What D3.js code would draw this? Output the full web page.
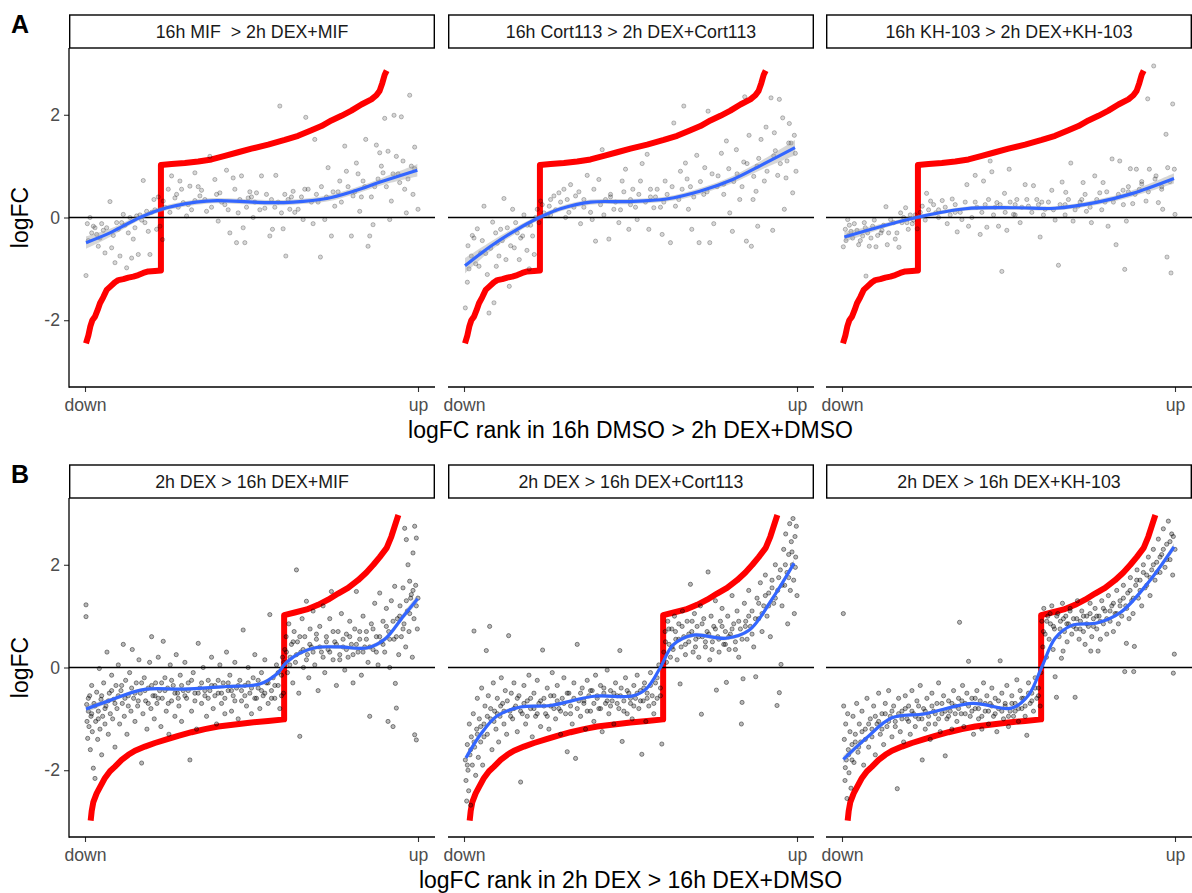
<!DOCTYPE html>
<html>
<head>
<meta charset="utf-8">
<script src="https://cdn.jsdelivr.net/npm/d3@7"></script>
<style>
  body { margin: 0; background: #fff; }
  text { font-family: "Liberation Sans", Arial, sans-serif; }
</style>
</head>
<body>
<div id="chart"></div>
<script>
// ---- labels ----
var rowLetters = ["A", "B"];
var rowTitles = ["logFC rank in 16h DMSO > 2h DEX+DMSO", "logFC rank in 2h DEX > 16h DEX+DMSO"];
var stripA = ["16h MIF  > 2h DEX+MIF", "16h Cort113 > 2h DEX+Cort113", "16h KH-103 > 2h DEX+KH-103"];
var stripB = ["2h DEX > 16h DEX+MIF", "2h DEX > 16h DEX+Cort113", "2h DEX > 16h DEX+KH-103"];
var yTicks = [-2, 0, 2];
var xTickLabels = ["down", "up"];

// ---- reference ranking (red), x = rank fraction, y = logFC ----
var refA = [[0.003,-2.45],[0.01,-2.3],[0.016,-2.12],[0.022,-2.0],[0.03,-1.93],[0.038,-1.8],[0.045,-1.67],[0.055,-1.55],
  [0.065,-1.41],[0.075,-1.35],[0.09,-1.26],[0.1,-1.22],[0.115,-1.2],[0.13,-1.17],[0.145,-1.15],[0.16,-1.12],[0.175,-1.08],
  [0.19,-1.05],[0.21,-1.04],[0.228,-1.03],[0.228,1.02],[0.26,1.04],[0.3,1.06],[0.34,1.09],[0.38,1.13],[0.42,1.2],[0.46,1.27],
  [0.5,1.34],[0.55,1.42],[0.6,1.51],[0.64,1.59],[0.68,1.7],[0.71,1.78],[0.74,1.89],[0.77,1.98],[0.8,2.08],[0.83,2.2],
  [0.86,2.3],[0.875,2.38],[0.885,2.47],[0.893,2.62],[0.9,2.78],[0.906,2.86]];
var refB = [[0.017,-2.98],[0.02,-2.8],[0.025,-2.62],[0.035,-2.45],[0.045,-2.33],[0.06,-2.15],[0.075,-2.02],[0.09,-1.93],
  [0.11,-1.8],[0.13,-1.7],[0.15,-1.62],[0.18,-1.54],[0.21,-1.47],[0.245,-1.4],[0.28,-1.33],[0.32,-1.26],[0.36,-1.2],
  [0.4,-1.15],[0.45,-1.11],[0.5,-1.07],[0.55,-1.04],[0.598,-1.01],[0.598,1.02],[0.63,1.07],[0.666,1.13],[0.7,1.22],
  [0.73,1.32],[0.76,1.44],[0.79,1.55],[0.82,1.7],[0.845,1.85],[0.866,2.0],[0.885,2.15],[0.906,2.33],[0.92,2.55],
  [0.93,2.75],[0.941,2.97]];

// ---- loess fits (blue) : x, fit, half width of band ----
var fitA1 = [[0.003,-0.49,0.12],[0.075,-0.3,0.08],[0.165,0.0,0.05],[0.245,0.19,0.05],[0.365,0.32,0.05],[0.445,0.32,0.05],
  [0.546,0.29,0.05],[0.625,0.3,0.05],[0.726,0.37,0.06],[0.806,0.51,0.06],[0.896,0.71,0.07],[0.998,0.92,0.12]];
var fitA2 = [[0.003,-0.94,0.15],[0.08,-0.56,0.09],[0.16,-0.23,0.06],[0.22,-0.02,0.05],[0.29,0.17,0.05],[0.38,0.3,0.05],
  [0.49,0.31,0.05],[0.608,0.36,0.05],[0.708,0.51,0.06],[0.807,0.74,0.07],[0.896,1.03,0.09],[0.994,1.36,0.15]];
var fitA3 = [[0.007,-0.38,0.1],[0.12,-0.17,0.05],[0.23,0.01,0.04],[0.37,0.17,0.04],[0.52,0.19,0.04],[0.64,0.18,0.04],
  [0.768,0.3,0.05],[0.868,0.46,0.06],[0.997,0.76,0.1]];
var fitB1 = [[0.003,-0.81,0.07],[0.075,-0.64,0.04],[0.175,-0.43,0.03],[0.295,-0.42,0.03],[0.425,-0.37,0.03],[0.525,-0.32,0.03],
  [0.575,-0.13,0.04],[0.605,0.1,0.04],[0.645,0.28,0.04],[0.695,0.39,0.04],[0.766,0.4,0.04],[0.846,0.38,0.04],[0.9,0.55,0.05],
  [0.956,1.0,0.06],[0.999,1.34,0.08]];
var fitB2 = [[0.006,-1.76,0.07],[0.05,-1.3,0.05],[0.1,-0.94,0.04],[0.17,-0.77,0.03],[0.26,-0.74,0.03],[0.39,-0.56,0.03],
  [0.508,-0.55,0.03],[0.548,-0.41,0.03],[0.588,-0.02,0.04],[0.628,0.44,0.04],[0.688,0.63,0.04],[0.787,0.57,0.04],
  [0.857,0.73,0.04],[0.926,1.34,0.05],[0.991,2.03,0.07]];
var fitB3 = [[0.004,-1.79,0.07],[0.072,-1.38,0.04],[0.15,-0.98,0.03],[0.25,-0.9,0.03],[0.39,-0.7,0.03],[0.51,-0.79,0.03],
  [0.56,-0.54,0.03],[0.6,0.01,0.04],[0.64,0.57,0.04],[0.69,0.82,0.03],[0.768,0.87,0.03],[0.838,1.08,0.04],[0.918,1.64,0.04],
  [0.997,2.35,0.07]];

// ---- genes (grey points) ----
var ptsA1 = [[0.003,-1.13],[0.007,-0.12],[0.015,0.0],[0.025,-0.17],[0.035,-0.33],[0.04,-0.56],[0.05,-0.12],[0.06,-0.69],
  [0.075,0.31],[0.08,-0.59],[0.09,-0.88],[0.1,-0.23],[0.105,-0.75],[0.115,0.06],[0.125,-0.98],[0.13,-0.3],[0.14,-0.79],
  [0.145,-0.42],[0.155,0.03],[0.16,-0.72],[0.175,0.72],[0.185,0.12],[0.19,-0.27],[0.195,-0.72],[0.207,0.35],[0.215,-0.23],
  [0.225,-0.17],[0.233,-0.43],[0.235,0.32],[0.25,0.55],[0.26,0.81],[0.27,0.38],[0.285,0.71],[0.295,0.29],[0.305,0.03],
  [0.315,0.61],[0.33,0.87],[0.345,0.42],[0.35,0.53],[0.365,0.12],[0.375,1.19],[0.39,0.74],[0.4,-0.07],[0.405,0.48],
  [0.425,0.92],[0.435,-0.3],[0.445,0.77],[0.455,-0.49],[0.46,0.09],[0.47,0.81],[0.475,-0.2],[0.48,-0.49],[0.49,0.38],
  [0.505,0.0],[0.515,0.48],[0.53,0.81],[0.54,0.18],[0.555,-0.36],[0.563,-0.23],[0.573,0.82],[0.585,2.17],[0.59,0.09],
  [0.595,-0.22],[0.603,-0.75],[0.615,0.16],[0.625,0.51],[0.64,0.16],[0.655,-0.04],[0.663,1.95],[0.67,0.55],[0.685,-0.12],
  [0.69,1.52],[0.707,-0.77],[0.72,-0.04],[0.73,0.97],[0.74,-0.36],[0.75,0.22],[0.765,0.71],[0.78,1.39],[0.785,0.9],
  [0.8,-0.36],[0.805,0.42],[0.815,1.06],[0.825,0.12],[0.835,0.71],[0.843,1.52],[0.85,-0.56],[0.855,-0.36],[0.865,-0.14],
  [0.875,1.41],[0.885,1.26],[0.895,0.87],[0.9,1.93],[0.91,1.29],[0.915,-0.04],[0.92,0.32],[0.928,1.99],[0.935,1.19],
  [0.945,0.68],[0.95,1.96],[0.96,0.55],[0.965,0.09],[0.975,2.38],[0.98,1.0],[0.985,0.45],[0.99,1.37],[1.0,0.16],
  [0.02,-0.3],[0.065,-0.2],[0.11,-0.1],[0.17,-0.05],[0.2,0.1],[0.28,0.2],[0.33,0.33],[0.42,0.25],[0.5,0.4],[0.58,0.3],
  [0.62,0.4],[0.7,0.3],[0.76,0.5],[0.83,0.4],[0.87,0.6],[0.94,0.85],
  [0.01,-0.45],[0.03,-0.2],[0.045,-0.4],[0.055,-0.25],[0.085,-0.35],[0.095,-0.1],[0.12,-0.15],[0.135,0.0],[0.15,-0.2],
  [0.165,0.05],[0.18,-0.1],[0.21,0.15],[0.22,0.4],[0.24,0.2],[0.255,0.1],[0.275,0.45],[0.29,0.55],[0.31,0.25],[0.32,0.15],
  [0.34,0.6],[0.36,0.35],[0.38,0.2],[0.395,0.45],[0.41,0.3],[0.43,0.15],[0.45,0.55],[0.465,0.35],[0.485,0.2],[0.495,0.5],
  [0.51,0.3],[0.525,0.15],[0.545,0.45],[0.56,0.35],[0.57,0.2],[0.6,0.45],[0.61,0.35],[0.63,0.1],[0.65,0.4],[0.66,0.55],
  [0.68,0.3],[0.695,0.45],[0.71,0.6],[0.725,0.4],[0.745,0.5],[0.77,0.3],[0.79,0.6],[0.81,0.5],[0.82,0.85],[0.84,0.6],
  [0.86,0.4],[0.88,0.75],[0.89,1.0],[0.905,0.6],[0.925,0.85],[0.955,1.1],[0.97,0.75],[0.99,0.95]];
var ptsA2 = [[0.004,-1.76],[0.01,-1.26],[0.012,-0.55],[0.022,-0.75],[0.03,-0.4],[0.04,-0.22],[0.05,-0.69],[0.06,0.22],
  [0.07,-1.11],[0.075,-1.86],[0.086,-0.09],[0.09,-1.66],[0.097,-0.95],[0.11,-0.23],[0.12,0.37],[0.126,-0.82],[0.136,-1.34],
  [0.146,0.16],[0.151,-0.59],[0.166,-0.82],[0.176,-0.36],[0.189,-0.64],[0.196,-1.0],[0.206,-0.36],[0.211,-0.72],[0.22,0.16],
  [0.23,0.32],[0.24,0.09],[0.256,0.22],[0.27,0.42],[0.285,0.48],[0.305,0.0],[0.32,0.64],[0.335,0.42],[0.35,-0.12],
  [0.37,0.82],[0.385,-0.04],[0.395,-0.46],[0.405,0.74],[0.415,1.32],[0.425,0.35],[0.435,-0.42],[0.45,0.16],[0.465,-0.1],
  [0.475,0.71],[0.485,0.94],[0.495,-0.23],[0.507,0.55],[0.52,-0.04],[0.53,0.71],[0.535,1.05],[0.55,1.23],[0.555,-0.23],
  [0.57,0.19],[0.58,0.55],[0.595,-0.33],[0.604,0.71],[0.62,-0.49],[0.63,1.84],[0.635,0.22],[0.65,0.9],[0.66,2.17],
  [0.665,1.06],[0.674,0.16],[0.684,-0.23],[0.699,1.21],[0.706,-0.49],[0.723,0.97],[0.733,2.07],[0.738,-0.49],[0.75,-0.12],
  [0.763,0.81],[0.773,1.25],[0.788,1.49],[0.798,0.09],[0.806,-0.27],[0.818,1.32],[0.828,0.35],[0.84,1.08],[0.843,2.35],
  [0.848,-0.46],[0.856,1.6],[0.863,-0.56],[0.868,0.35],[0.877,0.51],[0.882,-0.17],[0.892,1.52],[0.902,0.71],[0.907,1.76],
  [0.922,2.33],[0.927,-0.25],[0.932,1.65],[0.942,0.82],[0.947,2.3],[0.957,1.94],[0.962,0.16],[0.967,0.77],[0.977,1.83],
  [0.982,1.45],[0.987,0.48],[0.992,1.6],[0.997,0.9],
  [0.035,-0.9],[0.1,-0.5],[0.16,-0.3],[0.2,-0.15],[0.26,0.05],[0.31,0.35],[0.36,0.2],[0.44,0.45],[0.5,0.25],[0.56,0.4],
  [0.6,0.3],[0.68,0.6],[0.72,0.45],[0.78,0.65],[0.82,0.85],[0.88,1.0],[0.93,1.2],[0.97,1.1],
  [0.015,-1.0],[0.025,-0.35],[0.045,-0.95],[0.055,-0.45],[0.065,-0.7],[0.08,-0.6],[0.095,-0.3],[0.105,-0.75],[0.115,-0.45],
  [0.13,-0.2],[0.14,-0.55],[0.155,-0.1],[0.17,-0.4],[0.18,0.05],[0.19,-0.15],[0.215,0.0],[0.225,-0.1],[0.235,0.25],
  [0.25,0.05],[0.26,0.35],[0.275,0.15],[0.29,0.3],[0.3,0.55],[0.315,0.1],[0.33,0.2],[0.345,0.5],[0.36,0.35],[0.38,0.1],
  [0.39,0.55],[0.41,0.25],[0.42,0.05],[0.44,0.4],[0.455,0.3],[0.47,0.15],[0.48,0.5],[0.5,0.35],[0.515,0.2],[0.525,0.45],
  [0.545,0.3],[0.56,0.55],[0.575,0.4],[0.59,0.2],[0.61,0.45],[0.625,0.6],[0.645,0.35],[0.655,0.55],[0.67,0.75],[0.69,0.4],
  [0.71,0.7],[0.73,0.5],[0.745,0.85],[0.76,0.6],[0.78,0.45],[0.795,0.95],[0.81,0.7],[0.835,0.6],[0.85,1.05],[0.87,0.8],
  [0.885,1.15],[0.91,0.9],[0.935,1.3],[0.95,1.05],[0.975,1.45],[0.995,1.25]];
var ptsA3 = [[0.004,-0.57],[0.01,-0.23],[0.017,-0.04],[0.027,-0.27],[0.037,-0.12],[0.05,-0.53],[0.062,-0.36],[0.072,-1.14],
  [0.082,-0.56],[0.092,-0.17],[0.102,-0.57],[0.117,-0.3],[0.132,0.21],[0.136,-0.53],[0.146,-0.04],[0.16,-0.42],[0.171,-0.58],
  [0.176,0.09],[0.191,0.19],[0.199,-0.23],[0.211,-0.12],[0.226,-0.22],[0.241,0.22],[0.254,0.47],[0.266,0.32],[0.281,0.09],
  [0.301,0.33],[0.316,-0.12],[0.331,0.36],[0.346,-0.28],[0.36,-0.04],[0.375,0.64],[0.38,-0.17],[0.4,0.82],[0.415,-0.33],
  [0.425,0.71],[0.43,0.25],[0.435,-0.19],[0.445,1.1],[0.45,0.89],[0.465,0.29],[0.47,-0.17],[0.48,-1.05],[0.488,0.47],
  [0.495,-0.25],[0.502,0.94],[0.515,0.06],[0.525,0.35],[0.535,-0.1],[0.55,0.64],[0.56,0.22],[0.575,0.62],[0.585,0.35],
  [0.595,-0.38],[0.61,0.16],[0.63,0.53],[0.64,-0.05],[0.65,-0.93],[0.661,0.69],[0.672,0.49],[0.687,1.06],[0.694,-0.07],
  [0.709,0.22],[0.724,0.68],[0.734,0.12],[0.749,-0.1],[0.759,0.81],[0.774,0.48],[0.784,0.68],[0.799,-0.17],[0.811,1.14],
  [0.823,-0.53],[0.834,1.1],[0.844,0.53],[0.849,-1.01],[0.854,-0.07],[0.866,0.95],[0.873,0.27],[0.884,0.94],[0.893,0.55],
  [0.913,0.32],[0.918,2.31],[0.923,0.94],[0.936,2.95],[0.943,0.81],[0.95,0.29],[0.963,0.16],[0.973,1.62],[0.976,-0.77],
  [0.978,0.97],[0.988,-1.08],[0.993,2.21],[0.998,0.94],[1.0,0.06],
  [0.02,-0.35],[0.07,-0.2],[0.12,-0.25],[0.18,-0.1],[0.22,0.05],[0.29,0.15],[0.34,0.1],[0.4,0.3],[0.46,0.2],[0.52,0.25],
  [0.6,0.3],[0.67,0.25],[0.72,0.35],[0.79,0.3],[0.86,0.5],[0.9,0.7],[0.96,0.6],
  [0.012,-0.45],[0.022,-0.15],[0.032,-0.4],[0.045,-0.25],[0.055,-0.45],[0.067,-0.1],[0.077,-0.3],[0.087,-0.4],[0.097,-0.05],
  [0.107,-0.35],[0.125,-0.15],[0.14,-0.3],[0.155,-0.1],[0.165,-0.3],[0.185,0.0],[0.195,-0.1],[0.205,0.05],[0.215,-0.05],
  [0.235,0.1],[0.25,-0.05],[0.26,0.15],[0.275,0.25],[0.29,0.0],[0.31,0.2],[0.325,0.05],[0.34,0.25],[0.355,0.1],[0.37,0.3],
  [0.39,0.0],[0.405,0.2],[0.42,0.1],[0.44,0.35],[0.455,0.05],[0.475,0.25],[0.49,0.1],[0.505,0.3],[0.52,0.05],[0.54,0.2],
  [0.555,0.35],[0.57,0.1],[0.59,0.25],[0.605,0.05],[0.62,0.3],[0.635,0.15],[0.655,0.25],[0.67,0.05],[0.68,0.35],[0.7,0.15],
  [0.715,0.3],[0.73,0.45],[0.745,0.2],[0.765,0.35],[0.78,0.15],[0.795,0.5],[0.815,0.3],[0.83,0.45],[0.845,0.25],[0.86,0.6],
  [0.88,0.45],[0.9,0.65],[0.92,0.5],[0.94,0.75],[0.96,0.55],[0.985,0.7]];
var ptsB1 = [[0.003,1.22],[0.003,0.99],[0.005,-0.72],[0.006,-1.05],[0.008,-1.38],[0.01,-0.85],[0.012,-1.15],[0.014,-0.55],
  [0.016,-1.6],[0.018,-0.95],[0.02,-0.35],[0.022,-1.25],[0.025,-1.96],[0.027,-0.7],[0.03,-2.16],[0.032,-1.05],[0.035,-0.48],
  [0.038,-1.4],[0.04,-0.85],[0.043,-0.02],[0.045,-1.2],[0.048,-0.62],[0.05,-1.7],[0.053,-0.95],[0.056,-0.3],[0.06,-1.1],
  [0.063,-0.75],[0.066,0.3],[0.07,-1.3],[0.073,-0.5],[0.076,-0.9],[0.08,-0.15],[0.083,-1.0],[0.086,-0.62],[0.09,-1.55],
  [0.093,-0.35],[0.096,-0.8],[0.1,0.05],[0.104,-1.1],[0.108,-0.45],[0.112,-0.7],[0.115,0.45],[0.118,-0.95],[0.122,-0.25],
  [0.126,-1.3],[0.13,-0.55],[0.134,-0.1],[0.138,-0.85],[0.142,0.35],[0.146,-0.6],[0.15,-1.05],[0.154,-0.3],[0.158,-0.75],
  [0.162,0.15],[0.166,-0.5],[0.17,-1.86],[0.174,-0.9],[0.178,-0.2],[0.182,-0.65],[0.186,-1.2],[0.19,-0.4],[0.194,0.1],
  [0.198,-0.8],[0.2,0.6],[0.204,-0.55],[0.208,-1.0],[0.212,-0.3],[0.216,-0.7],[0.22,0.2],[0.224,-0.45],[0.228,-1.15],
  [0.232,-0.6],[0.235,0.51],[0.24,-0.2],[0.244,-0.85],[0.248,-0.4],[0.252,-1.3],[0.256,0.05],[0.26,-0.65],[0.265,-0.35],
  [0.27,-0.95],[0.274,0.25],[0.278,-0.5],[0.282,-0.75],[0.286,-0.15],[0.29,-1.05],[0.295,-0.45],[0.3,0.1],[0.305,-0.6],
  [0.31,-0.3],[0.315,-1.8],[0.32,-0.85],[0.325,-0.1],[0.33,-0.5],[0.335,-1.2],[0.34,0.47],[0.345,-0.4],[0.35,-0.7],
  [0.355,0.0],[0.36,-0.55],[0.365,-0.95],[0.37,-0.25],[0.375,-0.45],[0.38,0.2],[0.385,-0.8],[0.39,-0.35],[0.395,-1.1],
  [0.4,-0.5],[0.405,0.05],[0.41,-0.7],[0.415,-0.3],[0.42,-0.9],[0.425,0.3],[0.43,-0.45],[0.435,-0.15],[0.44,-0.85],
  [0.445,-0.55],[0.45,0.1],[0.455,-0.4],[0.46,-1.0],[0.465,-0.25],[0.47,-0.65],[0.475,0.73],[0.48,-0.35],[0.485,-0.75],
  [0.49,0.0],[0.495,-0.5],[0.5,-0.9],[0.505,-0.2],[0.51,0.25],[0.515,-0.6],[0.52,-0.4],[0.525,-0.8],[0.53,-0.1],
  [0.535,-0.55],[0.54,0.15],[0.545,-0.3],[0.55,-0.7],[0.555,1.03],[0.56,-0.45],[0.565,-0.2],[0.57,-0.6],[0.575,0.05],
  [0.58,-0.35],[0.585,-0.8],[0.59,-0.15],[0.593,0.2],[0.596,-0.5],
  [0.6,0.35],[0.604,0.6],[0.608,-0.1],[0.612,0.85],[0.616,0.2],[0.62,0.45],[0.624,-0.3],[0.628,0.7],[0.632,0.1],[0.635,1.9],
  [0.638,0.5],[0.642,-0.5],[0.645,-1.34],[0.648,0.3],[0.652,0.95],[0.656,0.0],[0.66,0.6],[0.665,1.29],[0.668,0.25],
  [0.672,-0.2],[0.676,0.75],[0.68,0.4],[0.685,1.1],[0.69,0.05],[0.695,0.55],[0.7,-0.45],[0.705,0.8],[0.71,0.3],[0.715,1.2],
  [0.72,-0.1],[0.725,0.6],[0.73,0.35],[0.735,0.95],[0.74,1.48],[0.745,0.15],[0.75,0.5],[0.755,-0.35],[0.76,0.7],
  [0.765,0.25],[0.77,1.05],[0.775,0.4],[0.78,-0.05],[0.785,0.65],[0.79,0.2],[0.795,0.9],[0.8,0.45],[0.805,-0.3],[0.81,0.75],
  [0.815,1.48],[0.82,0.3],[0.825,0.55],[0.83,-0.15],[0.835,1.0],[0.84,0.4],[0.845,0.7],[0.85,0.1],[0.855,-0.95],[0.86,0.85],
  [0.865,0.35],[0.87,1.25],[0.875,0.6],[0.88,0.05],[0.885,1.45],[0.89,0.5],[0.895,0.9],[0.9,0.3],[0.905,1.15],[0.91,-1.05],
  [0.912,0.7],[0.915,0.0],[0.92,1.3],[0.925,-1.15],[0.928,0.55],[0.93,1.58],[0.932,-0.31],[0.935,-0.79],[0.938,0.95],
  [0.942,0.25],[0.946,1.2],[0.95,0.6],[0.955,1.55],[0.958,0.85],[0.96,2.71],[0.963,0.4],[0.965,2.49],[0.968,1.1],[0.97,2.0],
  [0.973,0.7],[0.975,1.68],[0.978,1.35],[0.98,1.42],[0.983,0.2],[0.985,2.23],[0.988,0.95],[0.99,2.75],[0.99,-1.31],
  [0.993,1.6],[0.995,2.52],[0.995,-1.41],[0.998,0.75],[1.0,1.35],
  [0.01,-0.6],[0.02,-0.9],[0.03,-0.75],[0.04,-1.0],[0.05,-0.55],[0.06,-0.8],[0.07,-0.65],[0.08,-0.45],[0.09,-0.7],[0.1,-0.55],
  [0.11,-0.35],[0.12,-0.6],[0.13,-0.75],[0.14,-0.4],[0.15,-0.5],[0.16,-0.65],[0.17,-0.3],[0.18,-0.45],[0.19,-0.7],[0.2,-0.35],
  [0.21,-0.55],[0.22,-0.6],[0.23,-0.3],[0.24,-0.45],[0.25,-0.7],[0.26,-0.25],[0.27,-0.5],[0.28,-0.6],[0.29,-0.35],[0.3,-0.55],
  [0.31,-0.45],[0.32,-0.25],[0.33,-0.65],[0.34,-0.5],[0.35,-0.3],[0.36,-0.45],[0.37,-0.6],[0.38,-0.35],[0.39,-0.55],[0.4,-0.25],
  [0.41,-0.5],[0.42,-0.6],[0.43,-0.3],[0.44,-0.45],[0.45,-0.65],[0.46,-0.35],[0.47,-0.45],[0.48,-0.55],[0.49,-0.3],[0.5,-0.4],
  [0.51,-0.6],[0.52,-0.25],[0.53,-0.45],[0.54,-0.5],[0.55,-0.3],[0.56,-0.6],[0.57,-0.35],[0.58,-0.1],[0.59,-0.55],[0.597,0.1],
  [0.605,0.3],[0.615,0.05],[0.625,0.5],[0.635,0.25],[0.645,0.6],[0.655,0.35],[0.665,0.15],[0.675,0.45],[0.685,0.3],
  [0.695,0.65],[0.705,0.4],[0.715,0.2],[0.725,0.5],[0.735,0.3],[0.745,0.7],[0.755,0.45],[0.765,0.15],[0.775,0.55],
  [0.785,0.35],[0.795,0.6],[0.805,0.25],[0.815,0.45],[0.825,0.7],[0.835,0.3],[0.845,0.55],[0.855,0.4],[0.865,0.75],
  [0.875,0.3],[0.885,0.6],[0.895,0.45],[0.905,0.8],[0.915,0.55],[0.925,0.9],[0.935,0.6],[0.945,1.0],[0.955,0.75],
  [0.965,1.3],[0.975,1.05],[0.985,1.5],[0.995,1.2]];
var ptsB2 = [[0.004,-1.8],[0.006,-2.2],[0.008,-2.6],[0.01,-1.5],[0.012,-2.0],[0.014,-2.4],[0.016,-1.1],[0.018,-1.7],
  [0.02,-2.68],[0.022,-1.35],[0.025,-1.9],[0.028,-0.9],[0.03,0.71],[0.032,-1.55],[0.035,-2.1],[0.038,-1.2],[0.04,-0.6],
  [0.043,-1.75],[0.046,-1.0],[0.05,-1.45],[0.053,-0.4],[0.056,-1.9],[0.06,-1.1],[0.063,-0.75],[0.067,0.33],[0.07,-1.3],
  [0.073,-0.55],[0.077,0.8],[0.08,-1.0],[0.084,-1.6],[0.088,-0.3],[0.092,-0.85],[0.096,-1.2],[0.1,-0.6],[0.104,-1.45],
  [0.108,-0.95],[0.112,-0.2],[0.116,-0.7],[0.12,-1.1],[0.124,-0.45],[0.128,-1.3],[0.134,0.62],[0.138,-0.85],[0.142,-0.5],
  [0.146,-1.0],[0.15,-0.3],[0.155,-0.75],[0.16,-1.25],[0.165,-0.55],[0.17,-2.23],[0.175,-0.9],[0.18,-0.35],[0.185,-1.1],
  [0.19,-0.65],[0.195,-0.15],[0.2,-0.8],[0.205,-1.35],[0.21,-0.5],[0.215,-0.95],[0.22,-0.25],[0.225,-0.7],[0.23,-1.15],
  [0.236,0.34],[0.24,-0.6],[0.245,-0.9],[0.25,-0.4],[0.255,-1.2],[0.26,-0.75],[0.265,-0.1],[0.27,-0.55],[0.275,-1.0],
  [0.28,-0.35],[0.285,-0.8],[0.29,-1.3],[0.295,-0.6],[0.3,-0.2],[0.305,-0.9],[0.31,-1.64],[0.315,-0.5],[0.32,-0.75],
  [0.325,-1.1],[0.33,-0.3],[0.335,-1.77],[0.34,0.45],[0.345,-0.65],[0.35,-0.95],[0.355,-0.4],[0.36,-0.7],[0.365,-1.2],
  [0.37,-0.25],[0.375,-0.55],[0.38,-0.85],[0.385,-0.45],[0.39,-1.05],[0.395,-0.15],[0.4,-0.6],[0.405,-0.8],[0.41,-0.35],
  [0.415,-1.25],[0.42,-0.5],[0.425,-0.7],[0.43,-0.05],[0.435,-0.9],[0.44,-0.45],[0.445,-0.65],[0.45,-1.1],[0.455,-0.3],
  [0.46,-0.55],[0.465,-0.8],[0.468,0.33],[0.472,-0.4],[0.475,-1.44],[0.48,-0.65],[0.485,-0.2],[0.49,-0.9],[0.495,-0.5],
  [0.5,-0.7],[0.505,-1.0],[0.51,-0.35],[0.515,-0.6],[0.52,-0.15],[0.525,-0.8],[0.53,-0.45],[0.534,-1.69],[0.538,-0.65],
  [0.542,-0.3],[0.546,-1.05],[0.55,-0.5],[0.555,-0.75],[0.56,-0.1],[0.565,-0.55],[0.57,-0.9],[0.575,-0.3],[0.58,-0.6],
  [0.585,0.05],[0.59,-0.4],[0.594,-1.49],
  [0.6,0.3],[0.604,0.7],[0.608,0.1],[0.612,0.9],[0.616,0.45],[0.62,0.2],[0.624,0.75],[0.628,0.35],[0.632,1.0],[0.636,0.55],
  [0.64,0.15],[0.645,0.85],[0.649,-0.32],[0.652,0.4],[0.656,1.1],[0.66,0.6],[0.665,0.25],[0.67,0.9],[0.675,0.5],[0.68,1.62],
  [0.684,0.7],[0.688,0.3],[0.692,1.05],[0.696,0.55],[0.7,0.8],[0.705,0.2],[0.71,1.2],[0.713,-0.91],[0.716,0.6],[0.72,0.95],
  [0.725,0.4],[0.73,0.7],[0.733,1.86],[0.738,0.15],[0.742,1.0],[0.746,0.5],[0.75,0.8],[0.755,1.3],[0.758,-0.44],[0.762,0.6],
  [0.766,0.3],[0.77,0.9],[0.775,1.15],[0.78,0.45],[0.785,0.7],[0.788,-0.29],[0.792,1.0],[0.796,0.35],[0.8,0.65],[0.805,1.4],
  [0.81,0.85],[0.815,0.5],[0.82,1.1],[0.825,0.2],[0.83,0.75],[0.833,-1.1],[0.835,-0.68],[0.838,-0.22],[0.842,1.25],
  [0.846,0.9],[0.85,0.55],[0.855,1.5],[0.86,0.8],[0.865,1.1],[0.87,0.4],[0.876,-0.18],[0.88,1.35],[0.885,0.95],[0.89,1.65],
  [0.895,0.7],[0.9,1.2],[0.905,1.8],[0.91,1.0],[0.915,1.45],[0.92,0.6],[0.925,1.7],[0.93,1.25],[0.935,2.0],[0.94,-0.74],
  [0.942,1.5],[0.947,-0.49],[0.95,1.9],[0.952,0.06],[0.955,1.2],[0.96,2.3],[0.963,1.6],[0.966,2.6],[0.97,1.85],[0.972,0.85],
  [0.975,2.2],[0.978,2.8],[0.98,1.5],[0.983,2.45],[0.986,2.0],[0.988,2.9],[0.99,1.7],[0.992,1.05],[0.994,2.55],[0.996,2.15],
  [0.998,2.75],[1.0,1.4],
  [0.01,-1.9],[0.02,-1.6],[0.03,-1.45],[0.04,-1.3],[0.05,-1.15],[0.06,-1.35],[0.07,-0.95],[0.08,-0.8],[0.09,-1.05],[0.1,-0.9],
  [0.11,-0.75],[0.12,-0.85],[0.13,-0.65],[0.14,-0.95],[0.15,-0.8],[0.16,-0.6],[0.17,-0.85],[0.18,-0.7],[0.19,-0.95],[0.2,-0.6],
  [0.21,-0.8],[0.22,-0.9],[0.23,-0.65],[0.24,-0.75],[0.25,-0.95],[0.26,-0.55],[0.27,-0.8],[0.28,-0.65],[0.29,-0.85],[0.3,-0.7],
  [0.31,-0.5],[0.32,-0.9],[0.33,-0.6],[0.34,-0.8],[0.35,-0.5],[0.36,-0.65],[0.37,-0.85],[0.38,-0.45],[0.39,-0.7],[0.4,-0.55],
  [0.41,-0.8],[0.42,-0.4],[0.43,-0.65],[0.44,-0.75],[0.45,-0.5],[0.46,-0.7],[0.47,-0.55],[0.48,-0.85],[0.49,-0.45],[0.5,-0.6],
  [0.51,-0.75],[0.52,-0.5],[0.53,-0.65],[0.54,-0.4],[0.55,-0.6],[0.56,-0.35],[0.57,-0.7],[0.58,-0.2],[0.59,-0.55],
  [0.605,0.5],[0.615,0.75],[0.625,0.4],[0.635,0.7],[0.645,0.55],[0.655,0.8],[0.665,0.45],[0.675,0.65],[0.685,0.9],[0.695,0.4],
  [0.705,0.6],[0.715,0.85],[0.725,0.5],[0.735,0.65],[0.745,0.35],[0.755,0.75],[0.765,0.55],[0.775,0.8],[0.785,0.45],[0.795,0.6],
  [0.805,0.75],[0.815,0.35],[0.825,0.9],[0.835,0.55],[0.845,0.8],[0.855,1.0],[0.865,0.65],[0.875,0.95],[0.885,1.25],
  [0.895,1.05],[0.905,1.4],[0.915,1.2],[0.925,1.55],[0.935,1.35],[0.945,1.75],[0.955,1.6],[0.965,2.0],[0.975,1.75],
  [0.985,2.25],[0.995,1.95]];
var ptsB3 = [[0.004,1.05],[0.005,-0.75],[0.007,-1.4],[0.009,-2.2],[0.011,-1.1],[0.013,-1.8],[0.015,-2.55],[0.017,-0.9],
  [0.019,-1.6],[0.021,-2.05],[0.024,-1.25],[0.027,-2.35],[0.03,-1.5],[0.033,-0.95],[0.036,-1.85],[0.04,-1.3],[0.044,-0.7],
  [0.048,-1.65],[0.052,-1.1],[0.056,-1.45],[0.06,-0.85],[0.065,-1.9],[0.07,-1.2],[0.075,-0.6],[0.08,-1.55],[0.085,-1.0],
  [0.09,-1.35],[0.095,-0.75],[0.1,-1.7],[0.105,-1.1],[0.11,-0.5],[0.115,-1.3],[0.12,-0.9],[0.125,-1.5],[0.13,-0.7],
  [0.135,-1.15],[0.14,-0.45],[0.145,-0.95],[0.15,-1.35],[0.155,-0.75],[0.16,-1.05],[0.166,-2.36],[0.17,-0.6],[0.175,-1.25],
  [0.18,-0.85],[0.185,-1.45],[0.19,-0.55],[0.195,-1.0],[0.2,-0.75],[0.205,-1.3],[0.21,-0.45],[0.215,-0.9],[0.22,-1.15],
  [0.225,-0.65],[0.23,-1.0],[0.235,-0.35],[0.241,-1.8],[0.245,-0.8],[0.25,-1.2],[0.255,-0.6],[0.26,-0.95],[0.265,-1.4],
  [0.27,-0.5],[0.275,-0.85],[0.28,-1.1],[0.285,-0.7],[0.29,-0.3],[0.295,-1.25],[0.3,-0.9],[0.305,-0.55],[0.31,-1.72],
  [0.315,-1.0],[0.32,-0.65],[0.325,-0.85],[0.33,-1.2],[0.335,-0.45],[0.34,-0.75],[0.345,-1.05],[0.35,-0.6],[0.353,0.88],
  [0.358,-0.9],[0.362,-0.35],[0.366,-1.15],[0.37,-0.7],[0.375,-0.5],[0.38,0.12],[0.385,-0.95],[0.39,-0.6],[0.395,-1.3],
  [0.4,-0.8],[0.405,-0.45],[0.41,-1.0],[0.415,-0.65],[0.42,-1.2],[0.425,-0.3],[0.43,-0.85],[0.435,-0.55],[0.44,-1.1],
  [0.445,-0.7],[0.45,-0.4],[0.455,-0.95],[0.46,-0.6],[0.465,-1.25],[0.47,-0.8],[0.475,0.13],[0.48,-0.5],[0.485,-1.0],
  [0.49,-0.7],[0.495,-0.35],[0.5,-1.15],[0.505,-0.85],[0.51,-0.55],[0.515,-0.95],[0.52,-0.7],[0.525,-0.24],[0.53,-1.05],
  [0.535,-0.45],[0.54,-0.8],[0.545,-0.6],[0.55,-0.95],[0.555,-1.32],[0.56,-0.3],[0.565,-0.7],[0.57,-0.5],[0.575,-0.85],
  [0.58,-0.2],[0.585,-0.6],[0.59,-0.4],[0.595,-0.75],
  [0.6,0.9],[0.603,0.4],[0.606,1.15],[0.61,0.65],[0.614,0.2],[0.618,1.0],[0.622,0.55],[0.626,0.85],[0.63,1.2],[0.634,0.35],
  [0.638,0.75],[0.64,-0.18],[0.644,-0.58],[0.648,1.05],[0.652,0.6],[0.656,0.9],[0.659,0.18],[0.662,1.25],[0.664,0.32],
  [0.668,0.7],[0.672,1.0],[0.676,0.5],[0.68,0.85],[0.685,1.15],[0.69,0.65],[0.695,0.95],[0.7,-0.58],[0.703,0.75],[0.707,1.3],
  [0.712,0.55],[0.716,0.9],[0.72,1.1],[0.725,0.7],[0.73,0.45],[0.735,1.0],[0.74,0.8],[0.745,1.25],[0.747,0.32],[0.75,0.6],
  [0.755,0.95],[0.76,1.15],[0.765,0.75],[0.769,0.32],[0.772,1.0],[0.776,0.55],[0.78,1.3],[0.785,0.85],[0.79,1.1],
  [0.795,0.65],[0.8,1.4],[0.805,0.9],[0.81,1.2],[0.815,0.7],[0.82,1.05],[0.825,1.5],[0.83,0.85],[0.835,1.3],[0.84,1.0],
  [0.845,1.6],[0.849,-0.08],[0.852,1.2],[0.854,0.47],[0.858,1.45],[0.862,0.95],[0.866,1.75],[0.87,1.3],[0.874,1.05],
  [0.876,-0.08],[0.878,0.41],[0.882,1.6],[0.886,1.9],[0.89,1.35],[0.895,1.7],[0.9,1.2],[0.905,2.0],[0.91,1.55],[0.915,1.8],
  [0.92,2.15],[0.925,1.4],[0.93,1.9],[0.935,2.3],[0.94,1.7],[0.945,2.05],[0.95,2.5],[0.955,1.85],[0.96,2.2],[0.965,2.7],
  [0.97,1.95],[0.975,2.4],[0.98,2.85],[0.985,2.1],[0.99,2.6],[0.993,1.8],[0.995,-0.11],[0.998,0.26],[1.0,2.3],
  [0.01,-1.95],[0.02,-1.7],[0.03,-1.8],[0.04,-1.45],[0.05,-1.55],[0.06,-1.25],[0.07,-1.4],[0.08,-1.1],[0.09,-1.2],[0.1,-0.95],
  [0.11,-1.05],[0.12,-1.2],[0.13,-0.9],[0.14,-1.05],[0.15,-0.85],[0.16,-1.15],[0.17,-0.9],[0.18,-1.0],[0.19,-0.8],[0.2,-1.05],
  [0.21,-0.85],[0.22,-0.95],[0.23,-0.75],[0.24,-1.0],[0.25,-0.85],[0.26,-1.1],[0.27,-0.75],[0.28,-0.9],[0.29,-1.0],[0.3,-0.7],
  [0.31,-0.85],[0.32,-0.95],[0.33,-0.7],[0.34,-0.9],[0.35,-0.8],[0.36,-0.65],[0.37,-0.9],[0.38,-0.75],[0.39,-0.85],[0.4,-0.6],
  [0.41,-0.8],[0.42,-0.95],[0.43,-0.7],[0.44,-0.85],[0.45,-0.75],[0.46,-0.9],[0.47,-0.65],[0.48,-0.85],[0.49,-0.75],[0.5,-0.95],
  [0.51,-0.7],[0.52,-0.85],[0.53,-0.8],[0.54,-0.6],[0.55,-0.75],[0.56,-0.5],[0.57,-0.65],[0.58,-0.4],[0.59,-0.55],[0.597,-0.1],
  [0.605,0.7],[0.615,0.9],[0.625,1.05],[0.635,0.8],[0.645,1.0],[0.655,0.75],[0.665,0.95],[0.675,0.85],[0.685,1.1],[0.695,0.8],
  [0.705,0.95],[0.715,0.75],[0.725,1.0],[0.735,0.85],[0.745,1.05],[0.755,0.8],[0.765,1.0],[0.775,0.9],[0.785,1.15],
  [0.795,0.95],[0.805,1.1],[0.815,1.25],[0.825,1.05],[0.835,1.2],[0.845,1.35],[0.855,1.15],[0.865,1.5],[0.875,1.35],
  [0.885,1.7],[0.895,1.5],[0.905,1.85],[0.915,1.6],[0.925,1.75],[0.935,2.0],[0.945,1.85],[0.955,2.15],[0.965,2.3],
  [0.975,2.1],[0.985,2.45],[0.995,2.55]];

// set the dimensions of the grid
var W = 1192, H = 893;
var panelLeft = [69, 448, 826], panelW = 366;
var rowTop = [15, 465], stripH = 33, plotH = 339;

var rows = [
  { strips: stripA, ref: refA, fits: [fitA1, fitA2, fitA3], pts: [ptsA1, ptsA2, ptsA3], alpha: 0.16 },
  { strips: stripB, ref: refB, fits: [fitB1, fitB2, fitB3], pts: [ptsB1, ptsB2, ptsB3], alpha: 0.28 }
];

var svg = d3.select("#chart").append("svg")
    .attr("width", W)
    .attr("height", H);

rows.forEach(function(row, r) {
  var top = rowTop[r] + stripH,
      bottom = top + plotH;
  var y = d3.scaleLinear().domain([-3.3, 3.3]).range([bottom, top]);

  // row letter
  svg.append("text")
      .attr("x", 11).attr("y", rowTop[r] + 18)
      .style("font-size", "25px").style("font-weight", "bold")
      .text(rowLetters[r]);

  // x title
  svg.append("text")
      .attr("x", (panelLeft[0] + panelLeft[2] + panelW) / 2)
      .attr("y", bottom + 51)
      .attr("text-anchor", "middle")
      .style("font-size", "23px")
      .text(rowTitles[r]);

  // y title
  svg.append("text")
      .attr("transform", "translate(28," + (top + plotH / 2) + ") rotate(-90)")
      .attr("text-anchor", "middle")
      .style("font-size", "23px")
      .text("logFC");

  for (var p = 0; p < 3; p++) {
    var left = panelLeft[p];
    var x = d3.scaleLinear().domain([0, 1]).range([left + 16, left + panelW - 17]);
    var g = svg.append("g");

    // strip
    g.append("rect")
        .attr("x", left + 0.7).attr("y", rowTop[r])
        .attr("width", panelW - 1.4).attr("height", stripH)
        .attr("fill", "#fff").attr("stroke", "#000").attr("stroke-width", 1.4);
    g.append("text")
        .attr("x", left + panelW / 2).attr("y", rowTop[r] + stripH / 2)
        .attr("dy", "0.36em")
        .attr("text-anchor", "middle")
        .style("font-size", "17.8px").style("fill", "#1a1a1a")
        .style("white-space", "pre")
        .text(row.strips[p]);

    // reference ranking line
    var refLine = d3.line()
        .x(function(d) { return x(d[0]); })
        .y(function(d) { return y(d[1]); });
    g.append("path")
        .datum(row.ref)
        .attr("d", refLine)
        .attr("fill", "none")
        .attr("stroke", "#ff0000")
        .attr("stroke-width", 6)
        .attr("stroke-linejoin", "round");

    // zero line
    g.append("line")
        .attr("x1", left).attr("x2", left + panelW)
        .attr("y1", y(0)).attr("y2", y(0))
        .attr("stroke", "#000").attr("stroke-width", 1.3);

    // genes
    g.selectAll("circle")
        .data(row.pts[p])
      .enter().append("circle")
        .attr("cx", function(d) { return x(d[0]); })
        .attr("cy", function(d) { return y(d[1]); })
        .attr("r", 2.1)
        .attr("fill", "#000").attr("fill-opacity", row.alpha)
        .attr("stroke", "#000").attr("stroke-opacity", row.alpha * 2.2).attr("stroke-width", 0.7);

    // smooth + band
    var band = d3.area()
        .curve(d3.curveCatmullRom)
        .x(function(d) { return x(d[0]); })
        .y0(function(d) { return y(d[1] - d[2]); })
        .y1(function(d) { return y(d[1] + d[2]); });
    var smooth = d3.line()
        .curve(d3.curveCatmullRom)
        .x(function(d) { return x(d[0]); })
        .y(function(d) { return y(d[1]); });
    g.append("path").datum(row.fits[p])
        .attr("d", band)
        .attr("fill", "#999").attr("fill-opacity", 0.4);
    g.append("path").datum(row.fits[p])
        .attr("d", smooth)
        .attr("fill", "none").attr("stroke", "#3366ff").attr("stroke-width", 3.2);

    // x axis
    var xAxis = g.append("g")
        .attr("transform", "translate(0," + bottom + ")")
        .call(d3.axisBottom(x).tickValues([0, 1])
          .tickFormat(function(d, i) { return xTickLabels[i]; })
          .tickSize(5).tickSizeOuter(0).tickPadding(6.5));
    xAxis.select(".domain").remove();
    xAxis.selectAll(".tick line").attr("stroke", "#333").attr("stroke-width", 1.1);
    xAxis.selectAll(".tick text")
        .style("font-size", "17.6px").style("font-family", "'Liberation Sans', Arial, sans-serif")
        .attr("fill", "#4d4d4d");
    g.append("line")
        .attr("x1", left).attr("x2", left + panelW)
        .attr("y1", bottom).attr("y2", bottom)
        .attr("stroke", "#000").attr("stroke-width", 1.3);

    // y axis on first panel only
    if (p === 0) {
      var yAxis = g.append("g")
          .attr("transform", "translate(" + left + ",0)")
          .call(d3.axisLeft(y).tickValues(yTicks)
            .tickFormat(function(d) { return String(d); })
            .tickSize(5).tickSizeOuter(0).tickPadding(4));
      yAxis.select(".domain").remove();
      yAxis.selectAll(".tick line").attr("stroke", "#333").attr("stroke-width", 1.1);
      yAxis.selectAll(".tick text")
          .style("font-size", "17.6px").style("font-family", "'Liberation Sans', Arial, sans-serif")
          .attr("fill", "#4d4d4d");
      g.append("line")
          .attr("x1", left).attr("x2", left)
          .attr("y1", top).attr("y2", bottom + 0.65)
          .attr("stroke", "#000").attr("stroke-width", 1.3);
    }
  }
});
</script>
</body>
</html>
